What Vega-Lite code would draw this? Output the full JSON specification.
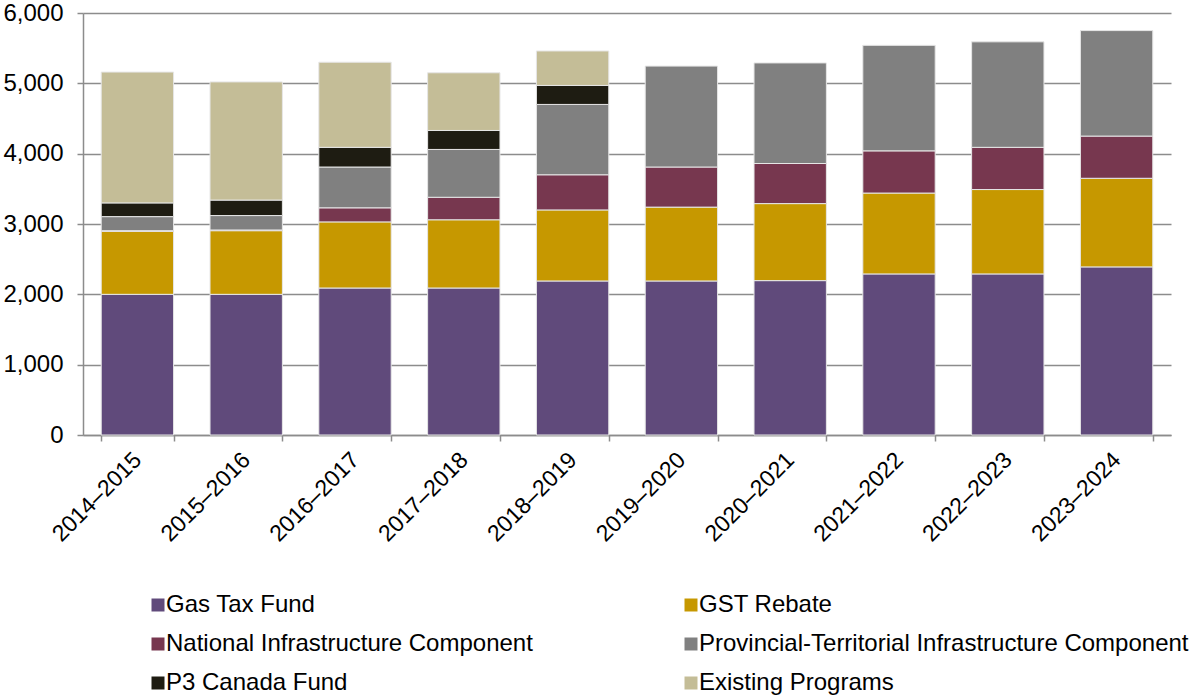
{
  "$schema": "https://vega.github.io/schema/vega-lite/v6.json",
  "autosize": "none",
  "width": 1088,
  "height": 422,
  "padding": {"left": 83, "top": 13, "right": 24, "bottom": 263},
  "background": "white",
  "data": {
    "values": [
      {"year": "2014–2015", "series": "Gas Tax Fund", "rank": 1, "value": 2000},
      {"year": "2014–2015", "series": "GST Rebate", "rank": 2, "value": 895},
      {"year": "2014–2015", "series": "National Infrastructure Component", "rank": 3, "value": 10},
      {"year": "2014–2015", "series": "Provincial-Territorial Infrastructure Component", "rank": 4, "value": 200},
      {"year": "2014–2015", "series": "P3 Canada Fund", "rank": 5, "value": 195},
      {"year": "2014–2015", "series": "Existing Programs", "rank": 6, "value": 1860},

      {"year": "2015–2016", "series": "Gas Tax Fund", "rank": 1, "value": 2000},
      {"year": "2015–2016", "series": "GST Rebate", "rank": 2, "value": 905},
      {"year": "2015–2016", "series": "National Infrastructure Component", "rank": 3, "value": 10},
      {"year": "2015–2016", "series": "Provincial-Territorial Infrastructure Component", "rank": 4, "value": 205},
      {"year": "2015–2016", "series": "P3 Canada Fund", "rank": 5, "value": 220},
      {"year": "2015–2016", "series": "Existing Programs", "rank": 6, "value": 1680},

      {"year": "2016–2017", "series": "Gas Tax Fund", "rank": 1, "value": 2090},
      {"year": "2016–2017", "series": "GST Rebate", "rank": 2, "value": 940},
      {"year": "2016–2017", "series": "National Infrastructure Component", "rank": 3, "value": 200},
      {"year": "2016–2017", "series": "Provincial-Territorial Infrastructure Component", "rank": 4, "value": 580},
      {"year": "2016–2017", "series": "P3 Canada Fund", "rank": 5, "value": 280},
      {"year": "2016–2017", "series": "Existing Programs", "rank": 6, "value": 1210},

      {"year": "2017–2018", "series": "Gas Tax Fund", "rank": 1, "value": 2090},
      {"year": "2017–2018", "series": "GST Rebate", "rank": 2, "value": 970},
      {"year": "2017–2018", "series": "National Infrastructure Component", "rank": 3, "value": 320},
      {"year": "2017–2018", "series": "Provincial-Territorial Infrastructure Component", "rank": 4, "value": 680},
      {"year": "2017–2018", "series": "P3 Canada Fund", "rank": 5, "value": 270},
      {"year": "2017–2018", "series": "Existing Programs", "rank": 6, "value": 820},

      {"year": "2018–2019", "series": "Gas Tax Fund", "rank": 1, "value": 2190},
      {"year": "2018–2019", "series": "GST Rebate", "rank": 2, "value": 1010},
      {"year": "2018–2019", "series": "National Infrastructure Component", "rank": 3, "value": 500},
      {"year": "2018–2019", "series": "Provincial-Territorial Infrastructure Component", "rank": 4, "value": 1000},
      {"year": "2018–2019", "series": "P3 Canada Fund", "rank": 5, "value": 270},
      {"year": "2018–2019", "series": "Existing Programs", "rank": 6, "value": 490},

      {"year": "2019–2020", "series": "Gas Tax Fund", "rank": 1, "value": 2190},
      {"year": "2019–2020", "series": "GST Rebate", "rank": 2, "value": 1050},
      {"year": "2019–2020", "series": "National Infrastructure Component", "rank": 3, "value": 570},
      {"year": "2019–2020", "series": "Provincial-Territorial Infrastructure Component", "rank": 4, "value": 1435},

      {"year": "2020–2021", "series": "Gas Tax Fund", "rank": 1, "value": 2195},
      {"year": "2020–2021", "series": "GST Rebate", "rank": 2, "value": 1095},
      {"year": "2020–2021", "series": "National Infrastructure Component", "rank": 3, "value": 570},
      {"year": "2020–2021", "series": "Provincial-Territorial Infrastructure Component", "rank": 4, "value": 1430},

      {"year": "2021–2022", "series": "Gas Tax Fund", "rank": 1, "value": 2290},
      {"year": "2021–2022", "series": "GST Rebate", "rank": 2, "value": 1150},
      {"year": "2021–2022", "series": "National Infrastructure Component", "rank": 3, "value": 600},
      {"year": "2021–2022", "series": "Provincial-Territorial Infrastructure Component", "rank": 4, "value": 1500},

      {"year": "2022–2023", "series": "Gas Tax Fund", "rank": 1, "value": 2290},
      {"year": "2022–2023", "series": "GST Rebate", "rank": 2, "value": 1200},
      {"year": "2022–2023", "series": "National Infrastructure Component", "rank": 3, "value": 600},
      {"year": "2022–2023", "series": "Provincial-Territorial Infrastructure Component", "rank": 4, "value": 1500},

      {"year": "2023–2024", "series": "Gas Tax Fund", "rank": 1, "value": 2390},
      {"year": "2023–2024", "series": "GST Rebate", "rank": 2, "value": 1260},
      {"year": "2023–2024", "series": "National Infrastructure Component", "rank": 3, "value": 600},
      {"year": "2023–2024", "series": "Provincial-Territorial Infrastructure Component", "rank": 4, "value": 1500}
    ]
  },
  "mark": {"type": "bar", "stroke": "#e6e6e6", "strokeWidth": 1},
  "encoding": {
    "x": {
      "field": "year",
      "type": "nominal",
      "sort": null,
      "scale": {"paddingInner": 0.335, "paddingOuter": 0.1675},
      "axis": {
        "title": null,
        "labelAngle": -45,
        "labelAlign": "right",
        "labelBaseline": "middle",
        "labelFont": "Liberation Sans",
        "labelFontSize": 23,
        "labelColor": "#000000",
        "labelPadding": 15,
        "tickBand": "extent",
        "tickSize": 6,
        "tickColor": "#8c8c8c",
        "tickWidth": 1.5,
        "domainColor": "#8c8c8c",
        "domainWidth": 1.5,
        "grid": false
      }
    },
    "y": {
      "field": "value",
      "type": "quantitative",
      "stack": "zero",
      "scale": {"domain": [0, 6000], "nice": false},
      "axis": {
        "title": null,
        "values": [0, 1000, 2000, 3000, 4000, 5000, 6000],
        "format": ",d",
        "labelFont": "Liberation Sans",
        "labelFontSize": 24,
        "labelColor": "#000000",
        "labelPadding": 14,
        "tickSize": 6,
        "tickColor": "#8c8c8c",
        "tickWidth": 1.5,
        "domainColor": "#8c8c8c",
        "domainWidth": 1.5,
        "grid": true,
        "gridColor": "#8c8c8c",
        "gridWidth": 1.5
      }
    },
    "color": {
      "field": "series",
      "type": "nominal",
      "scale": {
        "domain": ["Gas Tax Fund", "GST Rebate", "National Infrastructure Component", "Provincial-Territorial Infrastructure Component", "P3 Canada Fund", "Existing Programs"],
        "range": ["#604A7B", "#C69800", "#77374F", "#808080", "#1E1C12", "#C4BD97"]
      },
      "legend": {
        "title": null,
        "orient": "none",
        "direction": "horizontal",
        "legendX": 63,
        "legendY": 580,
        "columns": 2,
        "columnPadding": 146,
        "rowPadding": 15,
        "padding": 0,
        "symbolType": "square",
        "symbolSize": 169,
        "symbolStrokeWidth": 0,
        "labelOffset": -4,
        "labelFont": "Liberation Sans",
        "labelFontSize": 24,
        "labelColor": "#000000",
        "labelLimit": 700
      }
    },
    "order": {"field": "rank", "type": "quantitative", "sort": "ascending"}
  },
  "config": {
    "view": {"stroke": null},
    "axis": {"gridDash": []}
  }
}
